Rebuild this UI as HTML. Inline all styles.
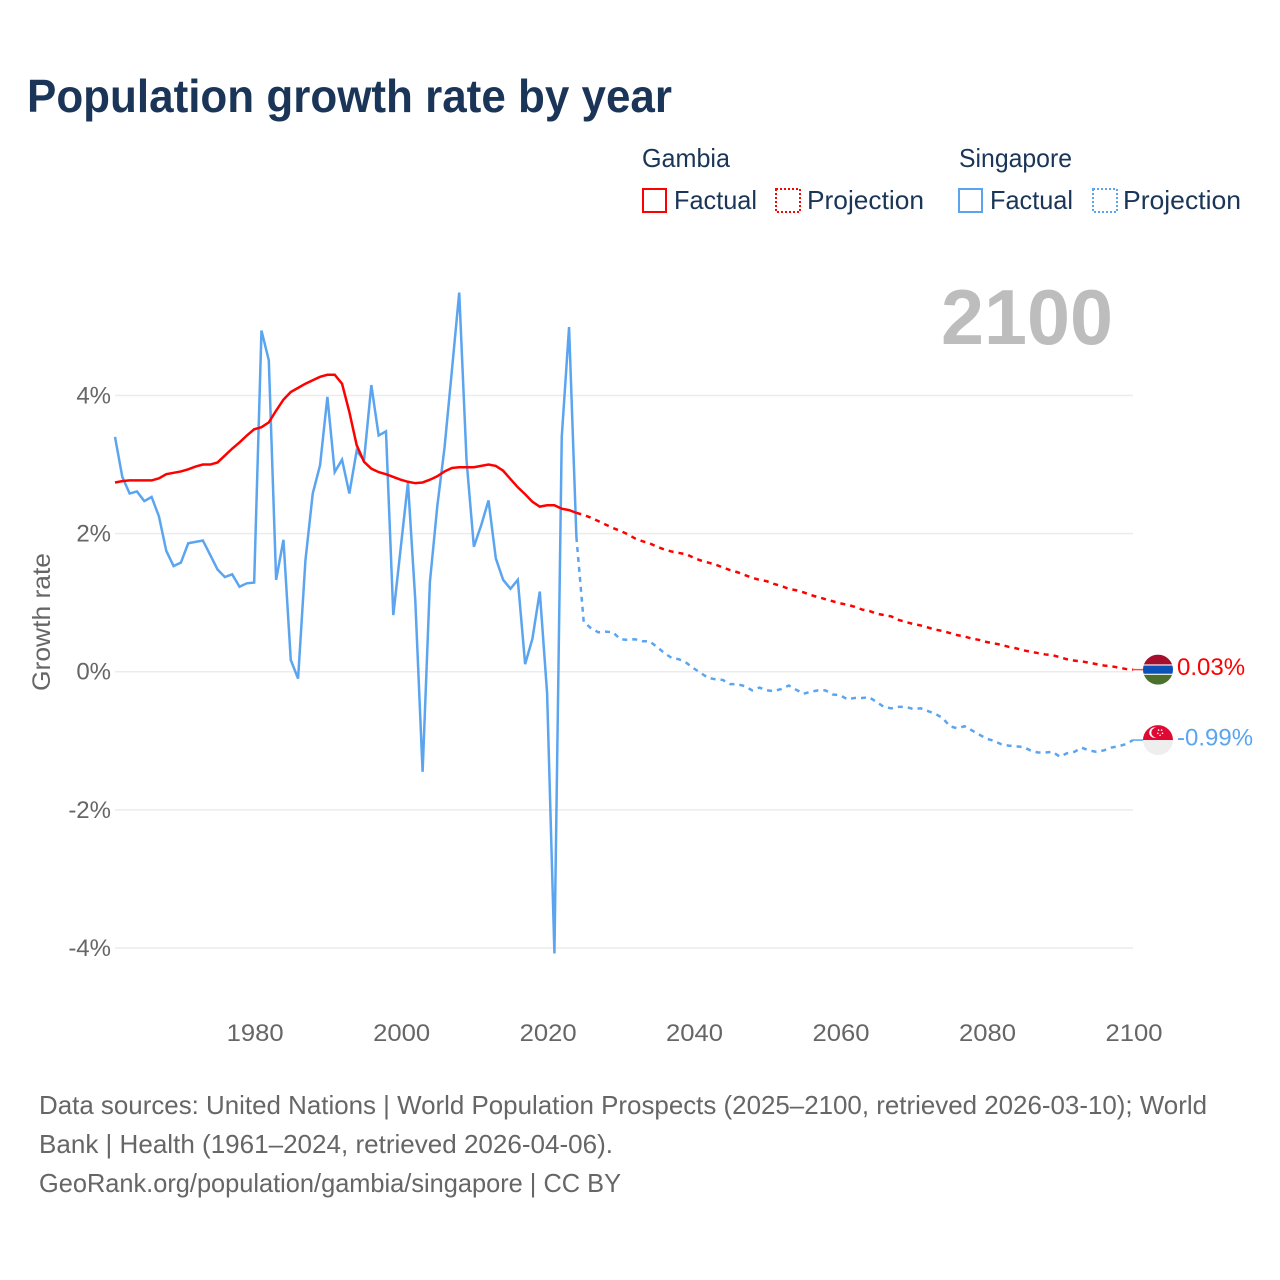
<!DOCTYPE html>
<html lang="en">
<head>
<meta charset="utf-8">
<title>Population growth rate by year</title>
<style>
html,body{margin:0;padding:0;background:#fff;}
svg{display:block;font-family:"Liberation Sans",sans-serif;}
</style>
</head>
<body>
<svg id="chart" xmlns="http://www.w3.org/2000/svg" width="1280" height="1280" viewBox="0 0 1280 1280">
  <rect x="0" y="0" width="1280" height="1280" fill="#fff"/>
  <text x="27" y="112" font-size="46" font-weight="700" fill="#1a3557" textLength="645" lengthAdjust="spacingAndGlyphs">Population growth rate by year</text>

  <g fill="#1a3557" font-size="26">
    <text x="642" y="167" textLength="88" lengthAdjust="spacingAndGlyphs">Gambia</text>
    <text x="959" y="167" textLength="113" lengthAdjust="spacingAndGlyphs">Singapore</text>
    <rect x="643" y="189" width="23" height="23" fill="none" stroke="#ff0000" stroke-width="2"/>
    <text x="674" y="209" textLength="83" lengthAdjust="spacingAndGlyphs">Factual</text>
    <rect x="776" y="189" width="24" height="23" fill="none" stroke="#ff0000" stroke-width="2" stroke-dasharray="2 2"/>
    <text x="807" y="209" textLength="117" lengthAdjust="spacingAndGlyphs">Projection</text>
    <rect x="959" y="189" width="23" height="23" fill="none" stroke="#5ba5f0" stroke-width="2"/>
    <text x="990" y="209" textLength="83" lengthAdjust="spacingAndGlyphs">Factual</text>
    <rect x="1093" y="189" width="24" height="23" fill="none" stroke="#5ba5f0" stroke-width="2" stroke-dasharray="2 2"/>
    <text x="1123" y="209" textLength="118" lengthAdjust="spacingAndGlyphs">Projection</text>
  </g>

  <text x="941" y="344" font-size="78" font-weight="700" fill="#bdbdbd" textLength="172" lengthAdjust="spacingAndGlyphs">2100</text>
  <text transform="translate(50 622) rotate(-90)" text-anchor="middle" font-size="25" fill="#666666" textLength="138" lengthAdjust="spacingAndGlyphs">Growth rate</text>

  <g id="grid"></g>
  <g id="yticks"></g>
  <g id="xticks"></g>
  <g id="series"></g>
  <g id="ends"></g>

  <g font-size="26" fill="#666666">
    <text x="39" y="1114" textLength="1168" lengthAdjust="spacingAndGlyphs">Data sources: United Nations | World Population Prospects (2025–2100, retrieved 2026-03-10); World</text>
    <text x="39" y="1153" textLength="574" lengthAdjust="spacingAndGlyphs">Bank | Health (1961–2024, retrieved 2026-04-06).</text>
    <text x="39" y="1192" textLength="582" lengthAdjust="spacingAndGlyphs">GeoRank.org/population/gambia/singapore | CC BY</text>
  </g>
</svg>
<script>
var factualStartYear = 1961;
var projectionStartYear = 2024;
var xTickYears = [1980, 2000, 2020, 2040, 2060, 2080, 2100];
var yTickValues = [4, 2, 0, -2, -4];

var gambiaFactual = [2.74,2.76,2.77,2.77,2.77,2.77,2.80,2.86,2.88,2.90,2.93,2.97,3.00,3.00,3.03,3.13,3.23,3.32,3.42,3.51,3.54,3.61,3.78,3.94,4.05,4.11,4.17,4.22,4.27,4.30,4.30,4.17,3.76,3.28,3.04,2.94,2.89,2.86,2.82,2.78,2.75,2.73,2.74,2.78,2.83,2.90,2.95,2.96,2.96,2.96,2.98,3.00,2.98,2.91,2.79,2.67,2.57,2.46,2.39,2.41,2.41,2.36,2.34,2.30];

var gambiaProjection = [2.30,2.27,2.23,2.18,2.13,2.08,2.04,1.99,1.93,1.89,1.86,1.81,1.77,1.74,1.72,1.70,1.65,1.61,1.58,1.55,1.51,1.47,1.44,1.40,1.36,1.33,1.31,1.27,1.24,1.20,1.18,1.15,1.11,1.08,1.05,1.02,0.99,0.97,0.94,0.90,0.88,0.84,0.82,0.80,0.75,0.72,0.69,0.67,0.64,0.61,0.59,0.56,0.53,0.51,0.48,0.46,0.43,0.41,0.39,0.36,0.34,0.31,0.29,0.27,0.25,0.24,0.21,0.18,0.16,0.15,0.13,0.11,0.09,0.08,0.06,0.04,0.03];

var singaporeFactual = [3.40,2.82,2.58,2.61,2.47,2.53,2.25,1.75,1.53,1.58,1.86,1.88,1.90,1.69,1.48,1.37,1.41,1.23,1.28,1.29,4.94,4.51,1.33,1.91,0.17,-0.10,1.61,2.58,2.99,3.98,2.89,3.07,2.58,3.20,3.06,4.15,3.42,3.48,0.82,1.78,2.74,1.04,-1.45,1.30,2.39,3.25,4.36,5.49,3.06,1.81,2.12,2.48,1.64,1.33,1.20,1.33,0.11,0.48,1.16,-0.31,-4.08,3.40,4.99,1.95];

var singaporeProjection = [1.95,0.72,0.63,0.57,0.58,0.57,0.47,0.46,0.47,0.44,0.44,0.36,0.27,0.20,0.18,0.13,0.05,-0.02,-0.09,-0.11,-0.12,-0.18,-0.18,-0.21,-0.27,-0.23,-0.27,-0.28,-0.25,-0.20,-0.26,-0.32,-0.29,-0.27,-0.27,-0.33,-0.34,-0.40,-0.38,-0.38,-0.37,-0.44,-0.51,-0.53,-0.51,-0.51,-0.54,-0.53,-0.57,-0.61,-0.67,-0.79,-0.82,-0.79,-0.85,-0.91,-0.97,-1.00,-1.05,-1.07,-1.08,-1.09,-1.14,-1.17,-1.17,-1.16,-1.23,-1.18,-1.16,-1.10,-1.14,-1.16,-1.14,-1.10,-1.08,-1.05,-0.99];

var NS = 'http://www.w3.org/2000/svg';
var RED = '#ff0000';
var BLUE = '#5ba5f0';
var GREY = '#666666';

function xScale(year) { return 115 + (year - 1961) * (1018 / 139); }
function yScale(value) { return 671.7 - value * 69.06; }
function make(tag, parentId) {
  var el = document.createElementNS(NS, tag);
  document.getElementById(parentId).appendChild(el);
  return el;
}
function linePoints(values, startYear) {
  return values.map(function (v, i) {
    return xScale(startYear + i).toFixed(2) + ',' + yScale(v).toFixed(2);
  }).join(' ');
}
function formatPercent(v) { return v.toFixed(2) + '%'; }

yTickValues.forEach(function (v) {
  var line = make('line', 'grid');
  
  
  line.setAttribute('x1', 115);
  line.setAttribute('x2', 1133);
  line.setAttribute('y1', yScale(v));
  line.setAttribute('y2', yScale(v));
  line.setAttribute('stroke', '#ececec');
  line.setAttribute('stroke-width', '1.5');

  var label = make('text', 'yticks');
  
  
  label.setAttribute('x', 111);
  label.setAttribute('y', yScale(v) + 8);
  label.setAttribute('text-anchor', 'end');
  label.setAttribute('font-size', '24');
  label.setAttribute('fill', GREY);
  label.textContent = v + '%';
});

xTickYears.forEach(function (year) {
  var label = make('text', 'xticks');
  
  
  label.setAttribute('x', xScale(year) + 1);
  label.setAttribute('y', 1041);
  label.setAttribute('text-anchor', 'middle');
  label.setAttribute('font-size', '24');
  label.setAttribute('fill', GREY);
  label.setAttribute('textLength', '57');
  label.setAttribute('lengthAdjust', 'spacingAndGlyphs');
  label.textContent = String(year);
});

function style(el, color, dashed) {
  el.setAttribute('fill', 'none');
  el.setAttribute('stroke', color);
  el.setAttribute('stroke-width', '2.5');
  if (dashed) { el.setAttribute('stroke-dasharray', '5 5'); }
}

var singaporeProjectionLine = make('polyline', 'series');


singaporeProjectionLine.setAttribute('points', linePoints(singaporeProjection, projectionStartYear));
style(singaporeProjectionLine, BLUE, true);

var singaporeFactualLine = make('polyline', 'series');


singaporeFactualLine.setAttribute('points', linePoints(singaporeFactual, factualStartYear));
style(singaporeFactualLine, BLUE, false);

var gambiaProjectionLine = make('polyline', 'series');


gambiaProjectionLine.setAttribute('points', linePoints(gambiaProjection, projectionStartYear));
style(gambiaProjectionLine, RED, true);

var gambiaFactualLine = make('polyline', 'series');


gambiaFactualLine.setAttribute('points', linePoints(gambiaFactual, factualStartYear));
style(gambiaFactualLine, RED, false);

/* clip circle shared by both flags */
var defs = make('defs', 'ends');
var clip = document.createElementNS(NS, 'clipPath');
clip.setAttribute('id', 'flag-clip');
defs.appendChild(clip);
var clipCircle = document.createElementNS(NS, 'circle');
clipCircle.setAttribute('r', '15');
clip.appendChild(clipCircle);

function addToFlag(flag, tag, props) {
  var el = document.createElementNS(NS, tag);
  Object.keys(props).forEach(function (k) { el.setAttribute(k, props[k]); });
  flag.appendChild(el);
  return el;
}

var endYear = xTickYears[xTickYears.length - 1];
var gambiaEnd = gambiaProjection[gambiaProjection.length - 1];
var singaporeEnd = singaporeProjection[singaporeProjection.length - 1];

/* Gambia end marker */
var gambiaConnector = make('line', 'ends');


gambiaConnector.setAttribute('x1', xScale(endYear));
gambiaConnector.setAttribute('x2', xScale(endYear) + 11);
gambiaConnector.setAttribute('y1', yScale(gambiaEnd));
gambiaConnector.setAttribute('y2', yScale(gambiaEnd));
gambiaConnector.setAttribute('stroke', RED);
gambiaConnector.setAttribute('stroke-opacity', '0.7');
gambiaConnector.setAttribute('stroke-width', '1.5');

var gambiaFlag = make('g', 'ends');


gambiaFlag.setAttribute('transform', 'translate(' + (xScale(endYear) + 25) + ' ' + yScale(gambiaEnd) + ')');
gambiaFlag.setAttribute('clip-path', 'url(#flag-clip)');
addToFlag(gambiaFlag, 'rect', {x: -15, y: -15, width: 30, height: 30, fill: '#ffffff'});
addToFlag(gambiaFlag, 'rect', {x: -15, y: -15, width: 30, height: 9.8, fill: '#a50e2d'});
addToFlag(gambiaFlag, 'rect', {x: -15, y: -4.1, width: 30, height: 8.2, fill: '#0a51b8'});
addToFlag(gambiaFlag, 'rect', {x: -15, y: 5.2, width: 30, height: 9.8, fill: '#4a702c'});

var gambiaLabel = make('text', 'ends');


gambiaLabel.setAttribute('x', xScale(endYear) + 44);
gambiaLabel.setAttribute('y', yScale(gambiaEnd) + 5.5);
gambiaLabel.setAttribute('font-size', '24');
gambiaLabel.setAttribute('fill', RED);
gambiaLabel.textContent = formatPercent(gambiaEnd);

/* Singapore end marker */
var singaporeConnector = make('line', 'ends');


singaporeConnector.setAttribute('x1', xScale(endYear));
singaporeConnector.setAttribute('x2', xScale(endYear) + 11);
singaporeConnector.setAttribute('y1', yScale(singaporeEnd));
singaporeConnector.setAttribute('y2', yScale(singaporeEnd));
singaporeConnector.setAttribute('stroke', BLUE);
singaporeConnector.setAttribute('stroke-width', '1.5');

var singaporeFlag = make('g', 'ends');


singaporeFlag.setAttribute('transform', 'translate(' + (xScale(endYear) + 25) + ' ' + yScale(singaporeEnd) + ')');
singaporeFlag.setAttribute('clip-path', 'url(#flag-clip)');
addToFlag(singaporeFlag, 'rect', {x: -15, y: -15, width: 30, height: 15, fill: '#df0a33'});
addToFlag(singaporeFlag, 'rect', {x: -15, y: 0, width: 30, height: 15, fill: '#eeeeee'});
addToFlag(singaporeFlag, 'circle', {cx: -3.6, cy: -7.5, r: 5.2, fill: '#ffffff'});
addToFlag(singaporeFlag, 'circle', {cx: -1.8, cy: -7.5, r: 4.9, fill: '#df0a33'});
addToFlag(singaporeFlag, 'circle', {cx: 0.6, cy: -10, r: 0.8, fill: '#ffffff'});
addToFlag(singaporeFlag, 'circle', {cx: 3.6, cy: -10, r: 0.8, fill: '#ffffff'});
addToFlag(singaporeFlag, 'circle', {cx: -0.2, cy: -6.8, r: 0.8, fill: '#ffffff'});
addToFlag(singaporeFlag, 'circle', {cx: 4.5, cy: -6.8, r: 0.8, fill: '#ffffff'});
addToFlag(singaporeFlag, 'circle', {cx: 2.1, cy: -4.8, r: 0.8, fill: '#ffffff'});

var singaporeLabel = make('text', 'ends');


singaporeLabel.setAttribute('x', xScale(endYear) + 44);
singaporeLabel.setAttribute('y', yScale(singaporeEnd) + 5.5);
singaporeLabel.setAttribute('font-size', '24');
singaporeLabel.setAttribute('fill', BLUE);
singaporeLabel.textContent = formatPercent(singaporeEnd);
</script>
</body>
</html>
